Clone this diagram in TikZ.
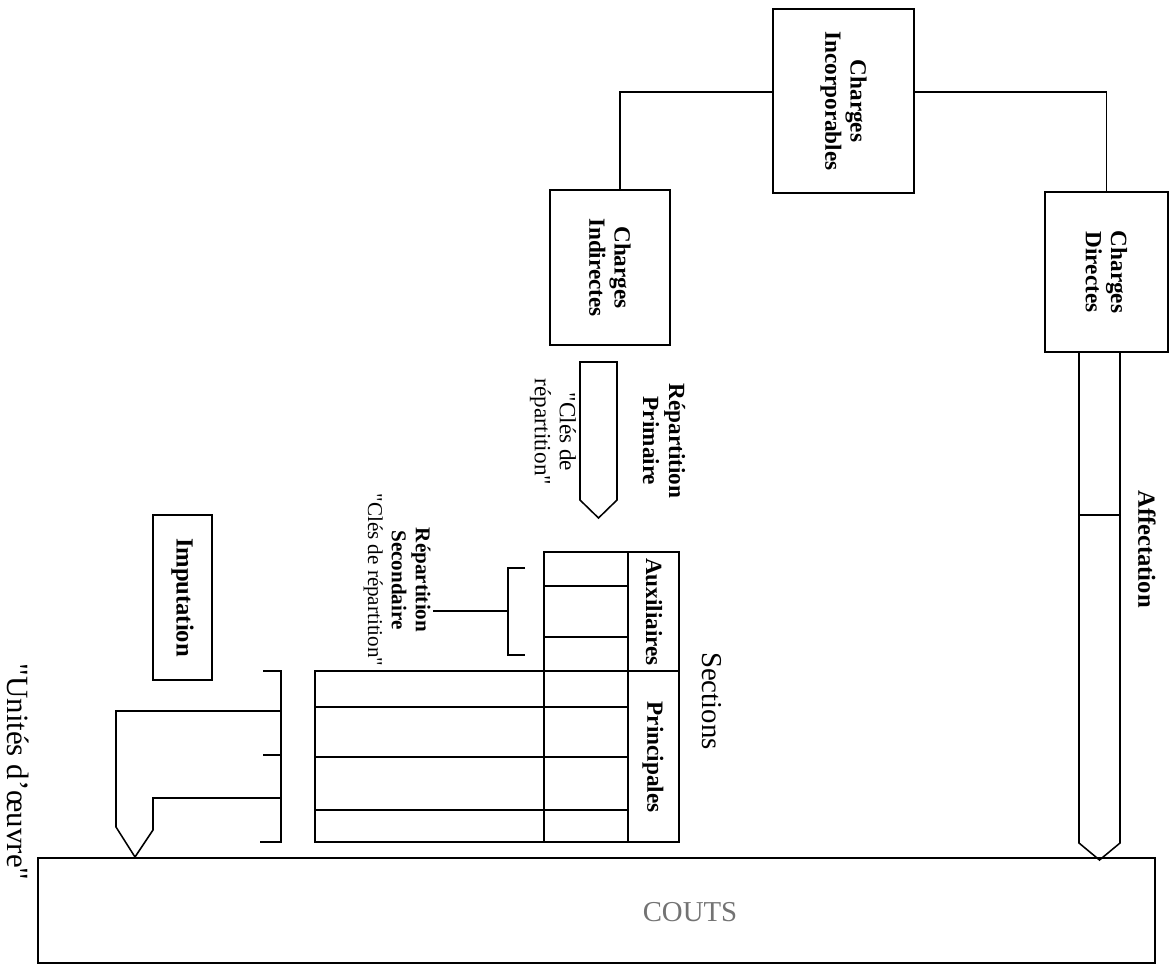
\documentclass[tikz,border=0pt]{standalone}
\usepackage{fontspec}
\setmainfont{Liberation Serif}[Ligatures=TeXOff]
\usetikzlibrary{calc,positioning}

\begin{document}
\begin{tikzpicture}[
        x=0.025cm, y=-0.025cm,
        line width=1.1pt, line join=miter,
        box/.style={rectangle,draw,rotate=-90,align=center,inner sep=2pt,font=\fontsize{16.5}{18}\selectfont\bfseries},
        vlabel/.style={rotate=-90,align=center,inner sep=1pt},
        blockarrow/.style={draw}
    ]
        \useasboundingbox (0,0) rectangle (1172,969);

        % les charges
        \node[box, minimum width=4.6cm, minimum height=3.525cm] (incorporables) at (843.5,101) {Charges\\Incorporables};
        \node[box, minimum width=3.875cm, minimum height=3.0cm] (indirectes) at (610,267.5) {Charges\\Indirectes};
        \node[box, minimum width=4.0cm, minimum height=3.075cm] (directes) at (1106.5,272) {Charges\\Directes};

        \draw ($(incorporables.south)+(0,-9)$) -| ($(indirectes.west)+(10,0)$);
        \draw ($(incorporables.north)+(0,-9)$) -| (directes.west);

        % couts
        \node[draw, minimum width=27.925cm, minimum height=2.625cm] (couts) at (596.5,910.5) {};
        \node[font=\fontsize{20.5}{22}\selectfont, text=black!55] (coutslabel) at (690,912) {COUTS};

        % affectation
        \draw[blockarrow] ($(directes.east)+(-27.5,0)$) -- (1079,843) -- (1099.5,860) -- (1120,843) -- ($(directes.east)+(13.5,0)$);
        \draw (1079,515) -- (1120,515);
        \node[vlabel, font=\fontsize{17.5}{19}\selectfont\bfseries] (affectation) at (1147,549) {Affectation};

        % repartition primaire
        \draw[blockarrow] (580,362) -- (580,500) -- (598.5,518) -- (617,500) -- (617,362) -- cycle;
        \node[vlabel, font=\fontsize{16.5}{18.5}\selectfont\bfseries] (primaire) at (664,441) {Répartition\\Primaire};
        \node[vlabel, font=\fontsize{16.5}{17.8}\selectfont] (clesprim) at (553,432) {"Clés de\\répartition"};

        % tableau des sections
        \draw (544,552) rectangle (679,842);
        \draw (315,671) rectangle (544,842);
        \draw (544,671) -- (679,671);
        \draw (628,552) -- (628,842);
        \foreach \y in {586,637} \draw (544,\y) -- (628,\y);
        \foreach \y in {707,757,810} \draw (315,\y) -- (628,\y);
        \node[vlabel, font=\fontsize{16.5}{18}\selectfont\bfseries] (auxiliaires) at (654,612) {Auxiliaires};
        \node[vlabel, font=\fontsize{16.5}{18}\selectfont\bfseries] (principales) at (653,757) {Principales};
        \node[vlabel, font=\fontsize{20.5}{22}\selectfont] (sections) at (712,701) {Sections};

        % repartition secondaire
        \draw (525,568) -| (508,655) -- (525,655);
        \coordinate (secmid) at (508,611);
        \node[vlabel, font=\fontsize{15}{17}\selectfont] (secondaire) at (397,580) {\textbf{Répartition}\\\textbf{Secondaire}\\"Clés de répartition"};
        \draw (secmid) -- (secondaire.north |- secmid);

        % imputation
        \node[box, minimum width=4.125cm, minimum height=1.475cm, font=\fontsize{17.5}{19}\selectfont\bfseries] (imputation) at (182.5,597.5) {Imputation};
        \draw (263,671) -- (281,671) -- (281,842) -- (260,842);
        \draw (263,755) -- (281,755);
        \draw[blockarrow] (281,711) -- (116,711) -- (116,827) -- (135,857) -- (153,830) -- (153,798) -- (281,798);
        \node[vlabel, font=\fontsize{22}{24}\selectfont] (unites) at (18,772) {"Unités d’œuvre"};
    \end{tikzpicture}
\end{document}
